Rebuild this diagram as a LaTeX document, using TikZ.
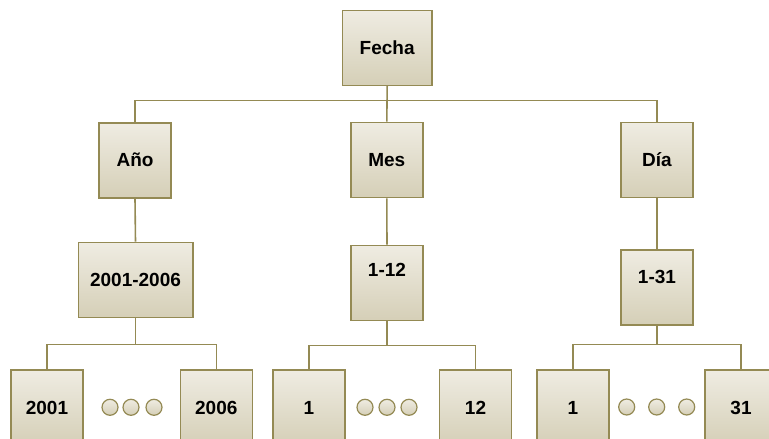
\documentclass[tikz,border=0pt]{standalone}
\usepackage{fontspec}
\setmainfont{Liberation Sans}
\usetikzlibrary{shadings}
\definecolor{frame}{HTML}{948A54}
\definecolor{fillTop}{HTML}{EFECE2}
\definecolor{fillBot}{HTML}{D5CFB7}
\tikzset{
  box/.style={draw=frame, line width=1.6pt, top color=fillTop, bottom color=fillBot,
    minimum height=75pt, inner sep=0pt, font=\fontsize{19}{22}\selectfont\bfseries},
  wbox/.style={box, minimum width=72pt},
  textup/.style={text height=0pt, text depth=#1},
  link/.style={draw=frame, line width=1.6pt},
  dot/.style={circle, draw=frame, line width=1.2pt, top color=fillTop, bottom color=fillBot,
    minimum size=16pt, inner sep=0pt}
}
\begin{document}
\begin{tikzpicture}[x=1pt, y=-1pt]
\clip (0,0) rectangle (769,439);
\fill[white] (0,0) rectangle (769,439);

% top level
\node[box, minimum width=89.7pt] (fecha) at (387.2,47.8) {Fecha};

% second level
\node[wbox] (ano) at (135,160.2) {Año};
\node[wbox] (mes) at (386.8,160) {Mes};
\node[wbox] (dia) at (657,160) {Día};

% ranges
\node[box, minimum width=114.4pt] (rano) at (135.5,280) {2001-2006};
\node[wbox, textup=12.4pt] (rmes) at (387,283) {1-12};
\node[wbox, textup=8.4pt] (rdia) at (657,287.5) {1-31};

% values
\node[wbox] (a1) at (47,407.5) {2001};
\node[wbox] (a2) at (216.3,407.5) {2006};
\node[wbox] (m1) at (309,407.5) {1};
\node[wbox] (m2) at (475.5,407.5) {12};
\node[wbox] (d1) at (572.8,407.5) {1};
\node[wbox] (d2) at (741,407.5) {31};

% ellipsis dots
\node[dot] (ad1) at (110,407.3) {};
\node[dot] (ad2) at (131,407.3) {};
\node[dot] (ad3) at (154,407.3) {};
\node[dot] (md1) at (365,407.3) {};
\node[dot] (md2) at (387,407.3) {};
\node[dot] (md3) at (409,407.3) {};
\node[dot] (dd1) at (626.7,407) {};
\node[dot] (dd2) at (656.7,407) {};
\node[dot] (dd3) at (686.7,407) {};

% bus levels
\coordinate (bus0) at (0,100.5);
\coordinate (busA) at (0,344.3);
\coordinate (busM) at (0,345.3);
\coordinate (busD) at (0,344.3);

% connectors
\path[link] (fecha.south) -- (mes.north);
\path[link] (ano.north) |- (dia.north |- bus0) -- (dia.north);

\path[link] (ano.south) -- (rano.north);
\path[link] (mes.south) -- (rmes.north);
\path[link] (dia.south) -- (rdia.north);

\path[link] (rano.south) -- (rano.south |- busA);
\path[link] (a1.north) |- (a2.north |- busA) -- (a2.north);
\path[link] (rmes.south) -- (rmes.south |- busM);
\path[link] (m1.north) |- (m2.north |- busM) -- (m2.north);
\path[link] (rdia.south) -- (rdia.south |- busD);
\path[link] (d1.north) |- (d2.north |- busD) -- (d2.north);
\end{tikzpicture}
\end{document}
